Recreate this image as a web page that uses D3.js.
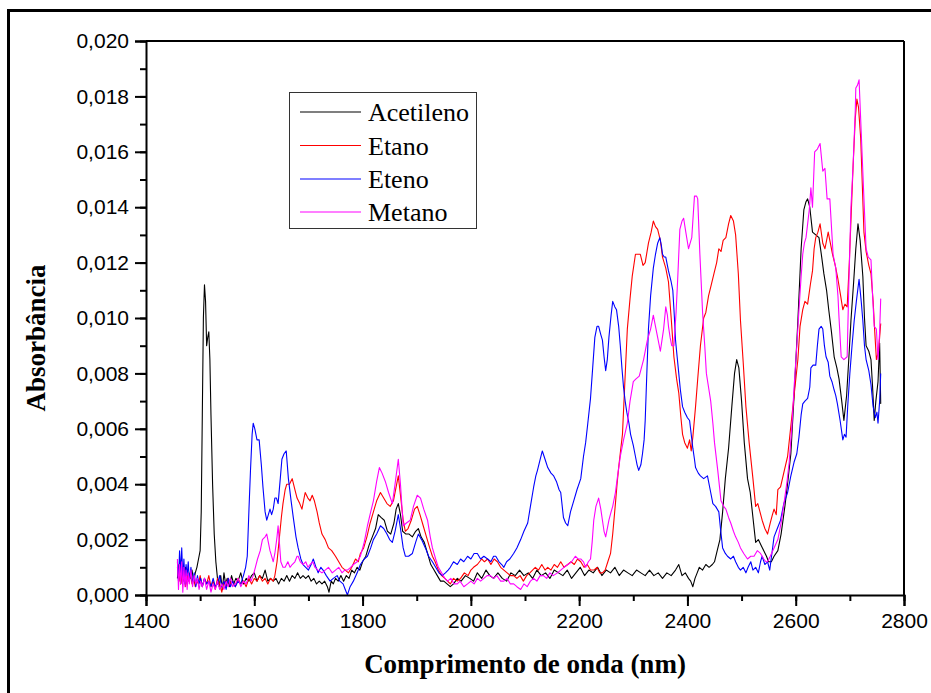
<!DOCTYPE html>
<html>
<head>
<meta charset="utf-8">
<script src="https://cdn.jsdelivr.net/npm/d3@7"></script>
<style>
  html, body { margin: 0; padding: 0; background: #fff; }
  svg { display: block; }
</style>
</head>
<body>
<div id="chart"></div>
<script>
// ---------- DATA (wavelength nm, absorbance) ----------
const seriesNames = ["Acetileno", "Etano", "Eteno", "Metano"];
const seriesColors = ["#000000", "#ff0000", "#0000ff", "#ff00ff"];
const xTickValues = [1400, 1600, 1800, 2000, 2200, 2400, 2600, 2800];
const yTickValues = [0, 0.002, 0.004, 0.006, 0.008, 0.010, 0.012, 0.014, 0.016, 0.018, 0.020];

const acetileno = [
[1458,0.0006],[1461,0.0011],[1464,0.0004],[1467,0.0009],[1470,0.0005],[1473,0.0010],[1476,0.0004],[1479,0.0008],[1482,0.0006],[1485,0.0009],[1488,0.0005],[1491,0.0008],[1494,0.0010],[1497,0.0013],[1500,0.0016],[1502,0.0030],[1504,0.0065],[1506,0.0100],[1508,0.0112],[1510,0.0106],[1512,0.0090],[1514,0.0093],[1516,0.0095],[1518,0.0085],[1520,0.0065],[1523,0.0040],[1526,0.0022],[1529,0.0012],[1532,0.0006],[1535,0.0003],[1538,0.0007],[1541,0.0002],[1544,0.0008],[1547,0.0004],[1550,0.0006],[1554,0.0003],[1558,0.0007],[1562,0.0004],[1566,0.0006],[1570,0.0005],[1575,0.0008],[1580,0.0004],[1585,0.0006],[1590,0.0005],[1595,0.0007],[1600,0.0008],[1605,0.0005],[1610,0.0007],[1615,0.0006],[1620,0.0009],[1625,0.0005],[1630,0.0006],[1635,0.0005],[1640,0.0006],[1645,0.0004],[1650,0.0006],[1655,0.0005],[1660,0.0007],[1665,0.0005],[1670,0.0007],[1675,0.0006],[1680,0.0008],[1685,0.0006],[1690,0.0007],[1695,0.0006],[1700,0.0007],[1705,0.0005],[1710,0.0006],[1715,0.0004],[1720,0.0005],[1725,0.0004],[1730,0.0005],[1735,0.0003],[1738,0.0001],[1742,0.0005],[1746,0.0004],[1750,0.0006],[1755,0.0005],[1760,0.0007],[1765,0.0005],[1770,0.0007],[1775,0.0006],[1780,0.0009],[1785,0.0008],[1790,0.0010],[1795,0.0009],[1800,0.0012],[1806,0.0014],[1812,0.0018],[1818,0.0021],[1824,0.0024],[1829,0.0029],[1834,0.0028],[1840,0.0027],[1846,0.0023],[1852,0.0022],[1858,0.0026],[1862,0.0031],[1866,0.0033],[1870,0.0029],[1874,0.0023],[1880,0.0022],[1886,0.0022],[1892,0.0021],[1898,0.0023],[1903,0.0024],[1908,0.0021],[1914,0.0019],[1920,0.0015],[1926,0.0011],[1932,0.0009],[1938,0.0007],[1944,0.0005],[1950,0.0005],[1956,0.0004],[1962,0.0003],[1968,0.0004],[1975,0.0006],[1982,0.0005],[1990,0.0007],[1998,0.0006],[2005,0.0005],[2012,0.0008],[2020,0.0006],[2028,0.0009],[2035,0.0007],[2042,0.0006],[2050,0.0008],[2058,0.0006],[2066,0.0005],[2074,0.0008],[2082,0.0007],[2090,0.0009],[2098,0.0007],[2106,0.0008],[2114,0.0006],[2122,0.0009],[2130,0.0007],[2138,0.0008],[2146,0.0006],[2154,0.0009],[2162,0.0008],[2170,0.0007],[2178,0.0009],[2186,0.0006],[2194,0.0008],[2202,0.0010],[2210,0.0007],[2218,0.0009],[2226,0.0008],[2234,0.0010],[2242,0.0007],[2250,0.0009],[2258,0.0008],[2266,0.0010],[2274,0.0007],[2282,0.0009],[2290,0.0008],[2298,0.0007],[2306,0.0009],[2314,0.0008],[2322,0.0007],[2330,0.0009],[2338,0.0007],[2346,0.0008],[2354,0.0006],[2362,0.0008],[2370,0.0007],[2378,0.0009],[2384,0.0011],[2390,0.0007],[2396,0.0008],[2402,0.0006],[2406,0.0005],[2410,0.0003],[2414,0.0006],[2418,0.0008],[2422,0.0010],[2428,0.0009],[2434,0.0011],[2440,0.0010],[2446,0.0011],[2450,0.0012],[2455,0.0016],[2460,0.0020],[2465,0.0030],[2470,0.0042],[2476,0.0053],[2482,0.0068],[2487,0.0080],[2491,0.0085],[2495,0.0082],[2500,0.0070],[2505,0.0055],[2511,0.0042],[2516,0.0037],[2521,0.0028],[2526,0.0019],[2531,0.0020],[2536,0.0018],[2541,0.0016],[2546,0.0014],[2550,0.0012],[2555,0.0012],[2560,0.0014],[2567,0.0016],[2573,0.0022],[2580,0.0032],[2586,0.0042],[2591,0.0051],[2597,0.0072],[2604,0.0099],[2610,0.0125],[2615,0.0139],[2619,0.0142],[2622,0.0143],[2626,0.0140],[2631,0.0131],[2637,0.0130],[2643,0.0129],[2648,0.0122],[2652,0.0116],[2657,0.0110],[2661,0.0103],[2666,0.0095],[2671,0.0086],[2676,0.0082],[2680,0.0078],[2685,0.0070],[2689,0.0063],[2694,0.0072],[2698,0.0085],[2702,0.0099],[2707,0.0113],[2711,0.0125],[2715,0.0134],[2719,0.0128],[2724,0.0115],[2727,0.0100],[2730,0.0090],[2735,0.0088],[2739,0.0085],[2742,0.0075],[2745,0.0063],[2748,0.0070],[2752,0.0077],[2755,0.0091],[2757,0.0069]
];

const etano = [
[1458,0.0010],[1461,0.0005],[1464,0.0009],[1467,0.0004],[1470,0.0008],[1473,0.0003],[1476,0.0007],[1479,0.0005],[1482,0.0008],[1485,0.0004],[1488,0.0006],[1491,0.0003],[1494,0.0005],[1497,0.0004],[1500,0.0007],[1504,0.0003],[1508,0.0006],[1512,0.0004],[1516,0.0007],[1520,0.0003],[1524,0.0005],[1528,0.0002],[1532,0.0006],[1536,0.0004],[1540,0.0001],[1544,0.0005],[1548,0.0003],[1552,0.0006],[1556,0.0004],[1560,0.0005],[1565,0.0003],[1570,0.0006],[1575,0.0004],[1580,0.0005],[1585,0.0003],[1590,0.0006],[1595,0.0004],[1600,0.0006],[1605,0.0005],[1610,0.0007],[1615,0.0005],[1620,0.0006],[1625,0.0004],[1630,0.0006],[1635,0.0005],[1638,0.0007],[1642,0.0012],[1646,0.0020],[1650,0.0028],[1653,0.0033],[1657,0.0038],[1660,0.0040],[1665,0.0040],[1670,0.0042],[1675,0.0038],[1679,0.0035],[1684,0.0033],[1688,0.0031],[1694,0.0037],[1699,0.0035],[1703,0.0034],[1707,0.0036],[1711,0.0034],[1716,0.0030],[1720,0.0026],[1725,0.0022],[1731,0.0020],[1737,0.0017],[1743,0.0016],[1750,0.0014],[1756,0.0012],[1762,0.0010],[1768,0.0009],[1774,0.0008],[1780,0.0010],[1787,0.0013],[1792,0.0012],[1796,0.0015],[1802,0.0017],[1808,0.0021],[1814,0.0026],[1820,0.0030],[1826,0.0034],[1833,0.0037],[1839,0.0035],[1845,0.0033],[1851,0.0032],[1857,0.0034],[1862,0.0039],[1866,0.0043],[1870,0.0036],[1875,0.0027],[1879,0.0023],[1884,0.0024],[1890,0.0027],[1896,0.0031],[1901,0.0032],[1906,0.0029],[1912,0.0025],[1918,0.0021],[1924,0.0017],[1929,0.0014],[1934,0.0012],[1940,0.0009],[1946,0.0007],[1952,0.0006],[1957,0.0005],[1962,0.0004],[1968,0.0006],[1975,0.0005],[1981,0.0006],[1988,0.0008],[1995,0.0007],[2000,0.0009],[2005,0.0010],[2012,0.0011],[2020,0.0013],[2025,0.0012],[2031,0.0013],[2037,0.0011],[2043,0.0013],[2049,0.0012],[2055,0.0010],[2061,0.0009],[2067,0.0008],[2073,0.0007],[2079,0.0007],[2085,0.0006],[2091,0.0007],[2097,0.0005],[2103,0.0007],[2109,0.0008],[2114,0.0009],[2119,0.0010],[2125,0.0009],[2131,0.0011],[2137,0.0009],[2142,0.0010],[2148,0.0009],[2154,0.0011],[2160,0.0010],[2166,0.0012],[2172,0.0010],[2179,0.0011],[2185,0.0012],[2191,0.0011],[2197,0.0013],[2203,0.0012],[2209,0.0010],[2215,0.0011],[2221,0.0009],[2227,0.0009],[2233,0.0010],[2238,0.0008],[2243,0.0008],[2248,0.0009],[2253,0.0012],[2258,0.0015],[2262,0.0022],[2267,0.0033],[2270,0.0040],[2273,0.0046],[2277,0.0053],[2280,0.0058],[2284,0.0075],[2289,0.0096],[2294,0.0107],[2298,0.0115],[2304,0.0123],[2309,0.0123],[2313,0.0123],[2318,0.0119],[2322,0.0120],[2328,0.0127],[2333,0.0131],[2337,0.0135],[2341,0.0133],[2345,0.0132],[2350,0.0128],[2354,0.0122],[2360,0.0118],[2365,0.0113],[2370,0.0100],[2375,0.0086],[2380,0.0078],[2384,0.0073],[2388,0.0064],[2391,0.0058],[2395,0.0055],[2400,0.0053],[2404,0.0056],[2407,0.0052],[2410,0.0057],[2415,0.0068],[2419,0.0078],[2424,0.0090],[2430,0.0100],[2434,0.0102],[2439,0.0108],[2444,0.0112],[2449,0.0116],[2454,0.0120],[2458,0.0125],[2462,0.0124],[2466,0.0128],[2471,0.0129],[2476,0.0134],[2480,0.0137],[2485,0.0135],[2489,0.0130],[2494,0.0116],[2498,0.0099],[2503,0.0084],[2508,0.0068],[2514,0.0055],[2521,0.0042],[2526,0.0032],[2530,0.0033],[2534,0.0030],[2538,0.0027],[2543,0.0024],[2548,0.0022],[2553,0.0026],[2557,0.0029],[2560,0.0031],[2564,0.0029],[2567,0.0038],[2572,0.0039],[2579,0.0045],[2585,0.0050],[2591,0.0061],[2597,0.0072],[2604,0.0085],[2608,0.0097],[2613,0.0103],[2617,0.0106],[2622,0.0105],[2627,0.0112],[2631,0.0117],[2634,0.0125],[2637,0.0129],[2641,0.0131],[2645,0.0134],[2650,0.0127],[2654,0.0125],[2660,0.0131],[2664,0.0127],[2668,0.0123],[2673,0.0119],[2678,0.0114],[2683,0.0108],[2687,0.0103],[2691,0.0105],[2695,0.0104],[2699,0.0120],[2702,0.0135],[2706,0.0155],[2710,0.0172],[2713,0.0179],[2716,0.0176],[2720,0.0165],[2723,0.0148],[2726,0.0131],[2730,0.0124],[2735,0.0119],[2739,0.0116],[2743,0.0106],[2746,0.0095],[2749,0.0085],[2753,0.0088],[2757,0.0098]
];

const eteno = [
[1458,0.0012],[1460,0.0005],[1462,0.0016],[1464,0.0008],[1466,0.0017],[1468,0.0006],[1470,0.0013],[1472,0.0004],[1474,0.0011],[1476,0.0007],[1478,0.0012],[1480,0.0005],[1483,0.0010],[1486,0.0004],[1489,0.0008],[1492,0.0003],[1495,0.0007],[1498,0.0004],[1501,0.0006],[1504,0.0003],[1508,0.0006],[1512,0.0004],[1516,0.0005],[1520,0.0003],[1524,0.0006],[1528,0.0003],[1532,0.0004],[1536,0.0007],[1540,0.0003],[1544,0.0005],[1548,0.0002],[1552,0.0006],[1556,0.0003],[1560,0.0005],[1565,0.0003],[1570,0.0005],[1575,0.0004],[1580,0.0007],[1584,0.0010],[1587,0.0014],[1590,0.0030],[1593,0.0045],[1596,0.0058],[1598,0.0062],[1601,0.0060],[1605,0.0056],[1609,0.0056],[1613,0.0047],[1616,0.0039],[1620,0.0030],[1623,0.0027],[1626,0.0029],[1629,0.0031],[1632,0.0029],[1635,0.0031],[1638,0.0035],[1641,0.0035],[1644,0.0033],[1648,0.0042],[1651,0.0049],[1655,0.0051],[1659,0.0052],[1663,0.0042],[1668,0.0034],[1672,0.0028],[1677,0.0021],[1681,0.0017],[1686,0.0013],[1690,0.0011],[1695,0.0010],[1700,0.0009],[1705,0.0011],[1709,0.0013],[1714,0.0010],[1718,0.0008],[1723,0.0010],[1727,0.0009],[1733,0.0007],[1740,0.0005],[1746,0.0006],[1753,0.0007],[1758,0.0005],[1764,0.0004],[1768,0.0002],[1772,0.0000],[1777,0.0003],[1783,0.0005],[1790,0.0008],[1796,0.0011],[1803,0.0013],[1809,0.0014],[1815,0.0017],[1820,0.0020],[1826,0.0022],[1833,0.0025],[1839,0.0024],[1845,0.0022],[1850,0.0020],[1855,0.0019],[1860,0.0023],[1866,0.0029],[1870,0.0024],[1875,0.0017],[1879,0.0014],[1885,0.0014],[1892,0.0015],[1898,0.0019],[1903,0.0022],[1909,0.0020],[1916,0.0017],[1922,0.0014],[1929,0.0012],[1935,0.0010],[1941,0.0008],[1947,0.0007],[1953,0.0008],[1958,0.0009],[1962,0.0010],[1968,0.0012],[1975,0.0011],[1981,0.0013],[1987,0.0012],[1994,0.0014],[2000,0.0013],[2006,0.0015],[2012,0.0015],[2018,0.0013],[2024,0.0014],[2031,0.0013],[2037,0.0012],[2042,0.0014],[2046,0.0014],[2052,0.0012],[2057,0.0011],[2061,0.0010],[2066,0.0012],[2072,0.0013],[2079,0.0015],[2085,0.0017],[2092,0.0020],[2098,0.0023],[2105,0.0026],[2110,0.0032],[2116,0.0039],[2120,0.0043],[2123,0.0045],[2128,0.0049],[2132,0.0052],[2137,0.0049],[2142,0.0046],[2148,0.0044],[2153,0.0043],[2158,0.0041],[2163,0.0038],[2166,0.0037],[2171,0.0028],[2175,0.0026],[2179,0.0025],[2184,0.0030],[2190,0.0034],[2196,0.0038],[2203,0.0042],[2208,0.0050],[2212,0.0055],[2216,0.0062],[2221,0.0071],[2225,0.0082],[2229,0.0093],[2233,0.0097],[2236,0.0097],[2240,0.0094],[2243,0.0092],[2246,0.0086],[2249,0.0081],[2252,0.0085],[2255,0.0093],[2259,0.0101],[2262,0.0106],[2266,0.0104],[2269,0.0103],[2273,0.0097],[2276,0.0090],[2279,0.0082],[2282,0.0075],[2285,0.0070],[2288,0.0066],[2292,0.0062],[2295,0.0058],[2300,0.0054],[2304,0.0050],[2307,0.0047],[2310,0.0045],[2314,0.0047],[2317,0.0051],[2320,0.0056],[2322,0.0063],[2325,0.0080],[2328,0.0096],[2332,0.0108],[2337,0.0118],[2341,0.0123],[2345,0.0127],[2349,0.0129],[2352,0.0126],[2354,0.0123],[2357,0.0122],[2360,0.0122],[2365,0.0117],[2370,0.0113],[2373,0.0110],[2376,0.0100],[2378,0.0092],[2381,0.0086],[2384,0.0080],[2387,0.0074],[2391,0.0068],[2395,0.0066],[2400,0.0064],[2404,0.0063],[2407,0.0058],[2410,0.0053],[2413,0.0049],[2415,0.0046],[2420,0.0044],[2424,0.0043],[2430,0.0042],[2437,0.0043],[2442,0.0038],[2447,0.0033],[2452,0.0032],[2458,0.0030],[2461,0.0024],[2465,0.0017],[2470,0.0015],[2474,0.0014],[2480,0.0013],[2485,0.0014],[2489,0.0012],[2494,0.0010],[2498,0.0009],[2503,0.0010],[2508,0.0008],[2512,0.0010],[2517,0.0012],[2521,0.0009],[2526,0.0010],[2531,0.0008],[2535,0.0012],[2538,0.0014],[2543,0.0011],[2548,0.0012],[2552,0.0009],[2556,0.0015],[2560,0.0021],[2566,0.0024],[2572,0.0027],[2578,0.0033],[2585,0.0037],[2591,0.0043],[2597,0.0048],[2602,0.0051],[2606,0.0057],[2610,0.0065],[2613,0.0069],[2617,0.0070],[2622,0.0071],[2626,0.0075],[2628,0.0082],[2632,0.0083],[2637,0.0083],[2640,0.0090],[2643,0.0096],[2647,0.0097],[2650,0.0096],[2653,0.0090],[2656,0.0086],[2660,0.0084],[2663,0.0079],[2667,0.0077],[2671,0.0074],[2674,0.0072],[2677,0.0069],[2682,0.0063],[2687,0.0056],[2690,0.0058],[2693,0.0057],[2696,0.0068],[2700,0.0080],[2704,0.0090],[2708,0.0099],[2712,0.0106],[2717,0.0114],[2721,0.0106],[2724,0.0099],[2727,0.0090],[2730,0.0085],[2735,0.0081],[2739,0.0076],[2743,0.0068],[2747,0.0064],[2750,0.0066],[2752,0.0062],[2755,0.0070],[2757,0.0080]
];

const metano = [
[1458,0.0013],[1460,0.0002],[1462,0.0011],[1464,0.0004],[1466,0.0012],[1468,0.0001],[1470,0.0010],[1472,0.0003],[1474,0.0009],[1476,0.0002],[1478,0.0008],[1480,0.0004],[1483,0.0009],[1486,0.0003],[1489,0.0007],[1492,0.0004],[1495,0.0006],[1498,0.0002],[1501,0.0005],[1504,0.0003],[1508,0.0006],[1512,0.0002],[1516,0.0005],[1520,0.0001],[1524,0.0004],[1528,0.0002],[1532,0.0005],[1536,0.0002],[1540,0.0004],[1544,0.0002],[1548,0.0005],[1552,0.0003],[1556,0.0006],[1560,0.0003],[1565,0.0004],[1570,0.0006],[1575,0.0003],[1580,0.0005],[1585,0.0004],[1590,0.0007],[1594,0.0005],[1598,0.0007],[1602,0.0010],[1606,0.0013],[1611,0.0016],[1615,0.0020],[1620,0.0021],[1623,0.0022],[1626,0.0019],[1629,0.0016],[1632,0.0014],[1635,0.0012],[1638,0.0015],[1642,0.0021],[1644,0.0025],[1646,0.0020],[1649,0.0012],[1653,0.0010],[1657,0.0010],[1662,0.0012],[1666,0.0010],[1670,0.0011],[1675,0.0012],[1679,0.0014],[1681,0.0014],[1685,0.0012],[1690,0.0011],[1695,0.0012],[1699,0.0010],[1703,0.0011],[1708,0.0012],[1712,0.0010],[1718,0.0009],[1725,0.0008],[1731,0.0009],[1737,0.0010],[1744,0.0008],[1750,0.0009],[1756,0.0010],[1762,0.0008],[1767,0.0009],[1772,0.0009],[1778,0.0010],[1783,0.0011],[1790,0.0012],[1796,0.0014],[1803,0.0019],[1809,0.0025],[1815,0.0030],[1820,0.0034],[1826,0.0041],[1831,0.0046],[1836,0.0044],[1842,0.0041],[1848,0.0037],[1855,0.0033],[1860,0.0040],[1866,0.0049],[1870,0.0040],[1875,0.0025],[1881,0.0026],[1888,0.0027],[1894,0.0032],[1901,0.0036],[1907,0.0035],[1913,0.0031],[1920,0.0027],[1925,0.0021],[1929,0.0017],[1935,0.0013],[1940,0.0010],[1946,0.0008],[1952,0.0006],[1957,0.0005],[1963,0.0006],[1969,0.0004],[1975,0.0004],[1980,0.0005],[1987,0.0003],[1994,0.0004],[2000,0.0005],[2006,0.0004],[2012,0.0006],[2018,0.0005],[2024,0.0006],[2030,0.0007],[2036,0.0007],[2042,0.0006],[2048,0.0007],[2055,0.0005],[2061,0.0005],[2067,0.0006],[2073,0.0004],[2079,0.0004],[2085,0.0003],[2092,0.0002],[2098,0.0004],[2104,0.0003],[2110,0.0005],[2116,0.0006],[2122,0.0005],[2128,0.0007],[2134,0.0007],[2140,0.0006],[2146,0.0008],[2152,0.0007],[2160,0.0008],[2166,0.0009],[2172,0.0010],[2179,0.0011],[2186,0.0012],[2193,0.0014],[2198,0.0013],[2203,0.0013],[2208,0.0012],[2212,0.0010],[2217,0.0012],[2221,0.0013],[2224,0.0019],[2227,0.0027],[2231,0.0032],[2236,0.0035],[2240,0.0031],[2243,0.0027],[2246,0.0023],[2249,0.0021],[2252,0.0024],[2255,0.0027],[2259,0.0030],[2262,0.0032],[2267,0.0037],[2271,0.0043],[2276,0.0050],[2282,0.0056],[2289,0.0062],[2294,0.0070],[2300,0.0077],[2305,0.0078],[2311,0.0079],[2315,0.0082],[2319,0.0085],[2323,0.0089],[2326,0.0092],[2332,0.0096],[2337,0.0101],[2341,0.0097],[2345,0.0093],[2350,0.0088],[2353,0.0092],[2356,0.0096],[2360,0.0104],[2363,0.0101],[2365,0.0097],[2368,0.0093],[2371,0.0090],[2375,0.0090],[2379,0.0102],[2382,0.0114],[2386,0.0132],[2390,0.0135],[2393,0.0136],[2397,0.0131],[2402,0.0125],[2405,0.0127],[2408,0.0129],[2411,0.0138],[2413,0.0144],[2417,0.0144],[2419,0.0143],[2423,0.0123],[2428,0.0102],[2432,0.0090],[2435,0.0080],[2439,0.0075],[2443,0.0070],[2447,0.0062],[2450,0.0055],[2456,0.0045],[2462,0.0034],[2467,0.0032],[2471,0.0031],[2476,0.0028],[2480,0.0026],[2485,0.0023],[2489,0.0021],[2494,0.0019],[2498,0.0017],[2504,0.0015],[2511,0.0013],[2517,0.0014],[2523,0.0014],[2529,0.0016],[2535,0.0015],[2541,0.0013],[2545,0.0012],[2548,0.0012],[2553,0.0014],[2560,0.0017],[2567,0.0020],[2573,0.0026],[2579,0.0034],[2584,0.0041],[2588,0.0048],[2593,0.0061],[2597,0.0075],[2602,0.0090],[2606,0.0103],[2610,0.0115],[2613,0.0123],[2616,0.0127],[2619,0.0129],[2622,0.0134],[2625,0.0139],[2628,0.0147],[2631,0.0140],[2635,0.0160],[2640,0.0161],[2645,0.0163],[2650,0.0153],[2654,0.0154],[2658,0.0143],[2663,0.0143],[2666,0.0133],[2669,0.0123],[2674,0.0118],[2678,0.0108],[2680,0.0100],[2684,0.0086],[2689,0.0085],[2695,0.0086],[2698,0.0111],[2702,0.0140],[2706,0.0155],[2710,0.0175],[2711,0.0183],[2714,0.0184],[2717,0.0186],[2721,0.0167],[2726,0.0143],[2730,0.0125],[2734,0.0122],[2739,0.0121],[2742,0.0108],[2745,0.0097],[2749,0.0096],[2752,0.0085],[2755,0.0095],[2757,0.0107]
];

const allSeries = [acetileno, etano, eteno, metano];

// ---------- LAYOUT ----------
const W = 931, H = 693;
const plot = { left: 146, right: 904, top: 41, bottom: 595 };

const svg = d3.select("#chart").append("svg")
  .attr("width", W).attr("height", H);

svg.append("rect").attr("width", W).attr("height", H).attr("fill", "#fff");

// outer frame (extends past right/bottom edges)
svg.append("rect")
  .attr("x", 8.5).attr("y", 10.5)
  .attr("width", W + 20).attr("height", H + 20)
  .attr("fill", "none").attr("stroke", "#000").attr("stroke-width", 3);

const x = d3.scaleLinear().domain([1400, 2800]).range([plot.left, plot.right]);
const y = d3.scaleLinear().domain([0, 0.020]).range([plot.bottom, plot.top]);

// clip
svg.append("clipPath").attr("id", "clip")
  .append("rect")
  .attr("x", plot.left).attr("y", plot.top)
  .attr("width", plot.right - plot.left).attr("height", plot.bottom - plot.top);

// series lines
const line = d3.line().x(d => x(d[0])).y(d => y(d[1]));
const g = svg.append("g").attr("clip-path", "url(#clip)");
allSeries.forEach((s, i) => {
  g.append("path").datum(s)
    .attr("d", line)
    .attr("fill", "none")
    .attr("stroke", seriesColors[i])
    .attr("stroke-width", 1.1)
    .attr("stroke-linejoin", "round");
});

// frame top/right
svg.append("line").attr("x1", plot.left).attr("x2", plot.right)
  .attr("y1", plot.top).attr("y2", plot.top)
  .attr("stroke", "#000").attr("stroke-width", 2);
svg.append("line").attr("x1", plot.right).attr("x2", plot.right)
  .attr("y1", plot.top).attr("y2", plot.bottom)
  .attr("stroke", "#000").attr("stroke-width", 2);

const fmt = d => d3.format(".3f")(d).replace(".", ",");

// X axis
const xAxis = svg.append("g").attr("transform", `translate(0,${plot.bottom})`);
xAxis.call(d3.axisBottom(x).tickValues(d3.range(1400, 2801, 100)).tickSize(6).tickFormat(""));
xAxis.call(g2 => g2.select(".domain").remove());
const xMajor = svg.append("g").attr("transform", `translate(0,${plot.bottom})`)
  .call(d3.axisBottom(x).tickValues(xTickValues).tickSize(11).tickPadding(7).tickFormat(d3.format("d")));
xMajor.select(".domain").attr("stroke-width", 2);
svg.selectAll("g.tick line").attr("stroke-width", 2);
xMajor.selectAll("text").attr("font-family", "'Liberation Sans', Arial, sans-serif")
  .attr("font-size", 21).attr("fill", "#000");

// Y axis
const yMinor = svg.append("g").attr("transform", `translate(${plot.left},0)`)
  .call(d3.axisLeft(y).tickValues(d3.range(0, 0.02001, 0.001)).tickSize(6).tickFormat(""));
yMinor.select(".domain").remove();
const yMajor = svg.append("g").attr("transform", `translate(${plot.left},0)`)
  .call(d3.axisLeft(y).tickValues(yTickValues).tickSize(11).tickPadding(6).tickFormat(fmt));
yMajor.select(".domain").attr("stroke-width", 2);
yMajor.selectAll("text").attr("font-family", "'Liberation Sans', Arial, sans-serif")
  .attr("font-size", 21).attr("fill", "#000");
svg.selectAll("g.tick line").attr("stroke-width", 2).attr("stroke", "#000");
svg.selectAll(".domain").attr("stroke", "#000");

// axis titles
svg.append("text")
  .attr("x", (plot.left + plot.right) / 2).attr("y", 673)
  .attr("text-anchor", "middle")
  .attr("font-family", "'Liberation Serif', 'Times New Roman', serif")
  .attr("font-weight", "bold").attr("font-size", 27)
  .text("Comprimento de onda (nm)");

svg.append("text")
  .attr("transform", "translate(45,338) rotate(-90)")
  .attr("text-anchor", "middle")
  .attr("font-family", "'Liberation Serif', 'Times New Roman', serif")
  .attr("font-weight", "bold").attr("font-size", 27)
  .text("Absorbância");

// legend
const leg = svg.append("g");
leg.append("rect").attr("x", 289.5).attr("y", 92.5).attr("width", 187).attr("height", 136)
  .attr("fill", "#fff").attr("stroke", "#333").attr("stroke-width", 1);
const rowY = [112, 145.5, 179, 212];
seriesNames.forEach((name, i) => {
  leg.append("line").attr("x1", 300).attr("x2", 361)
    .attr("y1", rowY[i]).attr("y2", rowY[i])
    .attr("stroke", seriesColors[i]).attr("stroke-width", 1.2);
  leg.append("text").attr("x", 368).attr("y", rowY[i] + 9)
    .attr("font-family", "'Liberation Serif', 'Times New Roman', serif")
    .attr("font-size", 26).attr("fill", "#000")
    .text(name);
});
</script>
</body>
</html>
